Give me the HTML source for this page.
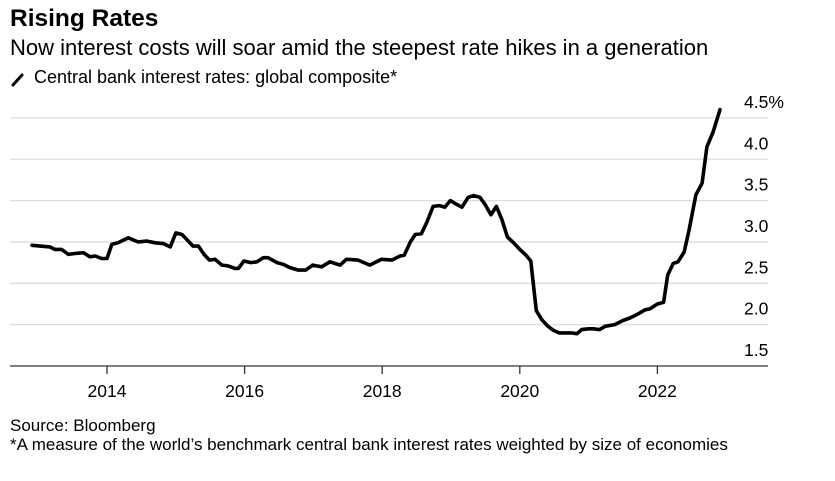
<!DOCTYPE html>
<html><head><meta charset="utf-8"><style>
html,body{margin:0;padding:0;background:#fff;}
body{width:835px;height:476px;overflow:hidden;font-family:"Liberation Sans",Arial,sans-serif;}
</style></head><body>
<svg id="chart" width="835" height="476" xmlns="http://www.w3.org/2000/svg" font-family="Liberation Sans, Arial, sans-serif">
<text x="10" y="26" font-size="24.5" font-weight="bold" fill="#000">Rising Rates</text>
<text x="10" y="55" font-size="22" fill="#000">Now interest costs will soar amid the steepest rate hikes in a generation</text>
<g>
<line x1="13" y1="85" x2="22" y2="75" stroke="#000" stroke-width="3" stroke-linecap="round"/>
<text x="34" y="83" font-size="18" fill="#000">Central bank interest rates: global composite*</text>
</g>
<g id="grid"></g>
<g id="yticks"></g>
<g id="xticks"></g>
<path id="series" fill="none" stroke="#000" stroke-width="3.6" stroke-linejoin="round" stroke-linecap="round"/>
<text x="10" y="431" font-size="17" fill="#000">Source: Bloomberg</text>
<text x="10" y="450" font-size="17" fill="#000">*A measure of the world’s benchmark central bank interest rates weighted by size of economies</text>
</svg>
<script>
const dates=[2012.91,2013.03,2013.17,2013.24,2013.34,2013.44,2013.53,2013.66,2013.75,2013.83,2013.92,2014.00,2014.07,2014.16,2014.31,2014.45,2014.58,2014.70,2014.82,2014.92,2015.00,2015.09,2015.16,2015.25,2015.33,2015.41,2015.49,2015.57,2015.67,2015.76,2015.86,2015.91,2015.99,2016.09,2016.18,2016.27,2016.34,2016.47,2016.56,2016.66,2016.78,2016.89,2016.99,2017.12,2017.24,2017.39,2017.48,2017.65,2017.82,2017.99,2018.14,2018.26,2018.32,2018.41,2018.48,2018.57,2018.65,2018.74,2018.83,2018.91,2018.99,2019.07,2019.16,2019.25,2019.33,2019.42,2019.49,2019.58,2019.66,2019.74,2019.82,2019.91,2020.00,2020.09,2020.16,2020.19,2020.24,2020.32,2020.41,2020.49,2020.57,2020.68,2020.75,2020.83,2020.90,2021.00,2021.07,2021.16,2021.24,2021.38,2021.50,2021.60,2021.72,2021.82,2021.89,2022.00,2022.09,2022.15,2022.23,2022.30,2022.39,2022.46,2022.56,2022.65,2022.72,2022.81,2022.91];
const rates=[2.96,2.95,2.94,2.91,2.91,2.85,2.86,2.87,2.82,2.83,2.80,2.80,2.97,2.99,3.05,3.00,3.01,2.99,2.98,2.94,3.11,3.09,3.03,2.95,2.95,2.85,2.78,2.79,2.72,2.71,2.68,2.68,2.77,2.75,2.76,2.81,2.81,2.75,2.73,2.69,2.66,2.66,2.72,2.70,2.76,2.72,2.79,2.78,2.72,2.79,2.78,2.83,2.84,3.00,3.09,3.10,3.24,3.43,3.44,3.42,3.50,3.46,3.42,3.54,3.56,3.54,3.46,3.33,3.43,3.27,3.06,2.99,2.91,2.84,2.77,2.54,2.17,2.06,1.98,1.93,1.90,1.90,1.90,1.89,1.94,1.95,1.95,1.94,1.98,2.00,2.05,2.08,2.13,2.18,2.19,2.25,2.27,2.60,2.74,2.76,2.88,3.14,3.57,3.71,4.15,4.33,4.60];
const yTicks=[1.5,2.0,2.5,3.0,3.5,4.0,4.5];
const yTickLabels=["1.5","2.0","2.5","3.0","3.5","4.0","4.5%"];
const xTicks=[2014,2016,2018,2020,2022];
const xTickLabels=["2014","2016","2018","2020","2022"];

const NS="http://www.w3.org/2000/svg";
function xs(t){return 107+(t-2014)*68.8;}
function ys(v){return 366-(v-1.5)*82.7;}
function mk(tag,attrs,parent){const e=document.createElementNS(NS,tag);for(const k in attrs)e.setAttribute(k,attrs[k]);parent.appendChild(e);return e;}
const grid=document.getElementById('grid'),yt=document.getElementById('yticks'),xt=document.getElementById('xticks');
yTicks.forEach((v,i)=>{
  if(v>1.5){const l=mk('line',{x1:10,x2:768,y1:ys(v),y2:ys(v),stroke:'#dcdcdc','stroke-width':1.3},grid);
  
  }
  const t=mk('text',{x:744,y:ys(v)-10,'font-size':17.5,fill:'#000'},yt);
  t.textContent=yTickLabels[i];
  
  
});
const ax=mk('line',{x1:10,x2:768,y1:366,y2:366,stroke:'#333','stroke-width':1.3},xt);


xTicks.forEach((t,i)=>{
  const tk=mk('line',{x1:xs(t),x2:xs(t),y1:366,y2:374,stroke:'#333','stroke-width':1.3},xt);
  
  
  const lb=mk('text',{x:xs(t),y:397,'font-size':17.5,'text-anchor':'middle',fill:'#000'},xt);
  lb.textContent=xTickLabels[i];
  
  
});
document.getElementById('series').setAttribute('d',dates.map((t,i)=>(i?'L':'M')+xs(t).toFixed(1)+','+ys(rates[i]).toFixed(1)).join(''));
</script>
</body></html>
